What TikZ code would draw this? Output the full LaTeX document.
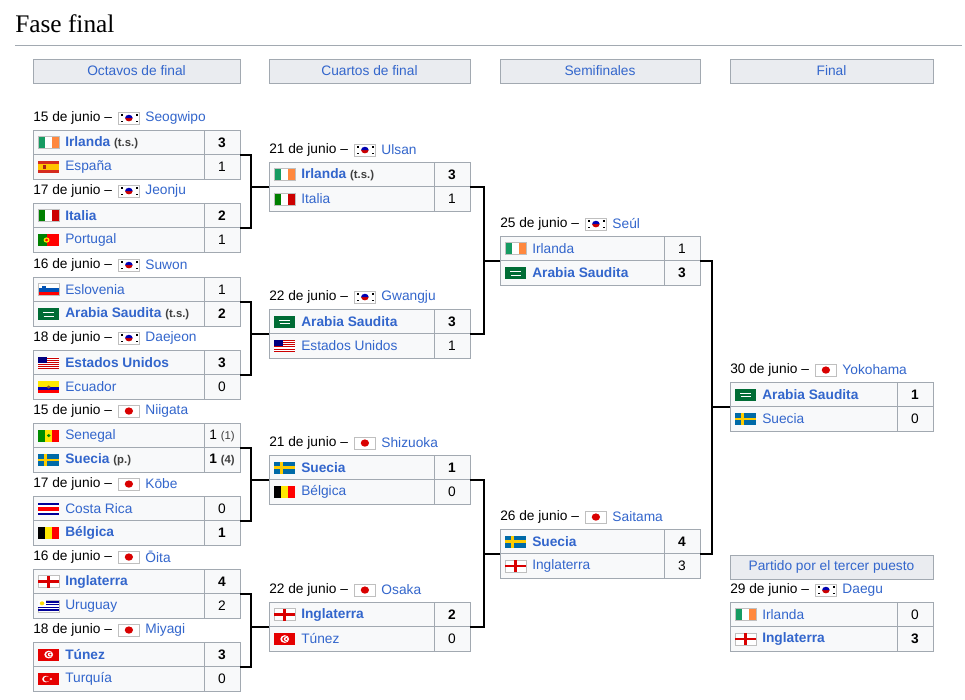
\documentclass[tikz,border=0pt]{standalone}
\usepackage{fontspec}
\setmainfont{Liberation Sans}
\newfontfamily\titlefont{Liberation Serif}
\usetikzlibrary{calc}
\definecolor{lnk}{HTML}{3366CC}
\definecolor{cbg}{HTML}{F8F9FA}
\definecolor{cbd}{HTML}{A2A9B1}
\definecolor{hbg}{HTML}{EAECF0}
\definecolor{fgreen}{HTML}{169B62}
\definecolor{forange}{HTML}{FF883E}
\definecolor{fred}{HTML}{D52B1E}
\definecolor{fyel}{HTML}{FFC400}
\definecolor{fblue}{HTML}{0052B4}
\definecolor{ksag}{HTML}{006C35}
\definecolor{sweb}{HTML}{006AA7}
\definecolor{swey}{HTML}{FECC00}
\newcounter{nn}
\tikzset{
  x=0.75pt, y=-0.75pt,
  txt/.style={font=\fontsize{10.3}{12}\selectfont, inner sep=0pt},
  lnkt/.style={txt, text=lnk},
  cell/.style={fill=cbg, draw=cbd, line width=0.75pt},
  hdr/.style={fill=hbg, draw=cbd, line width=0.75pt},
  conn/.style={line width=1.5pt, black},
  flg/.style={xscale=1.26, yscale=1.1},
  fb/.style={draw=black!25, line width=0.3pt},
  kor/.pic={\filldraw[fill=white,fb] (0,0) rectangle (17,11);
    \fill[red!80!black] (8.5,5.5) ++(-3,0) arc (180:0:3) -- cycle;
    \fill[blue!70!black] (8.5,5.5) ++(3,0) arc (0:-180:3) -- cycle;
    \foreach \a/\b in {2/2,14/2,2/8,14/8}{\fill[black] (\a,\b) rectangle ++(1.5,1.5);}},
  jpn/.pic={\filldraw[fill=white,fb] (0,0) rectangle (17,11);
    \fill[red!85!black] (8.5,5.5) circle (3.3);},
  ire/.pic={\fill[fgreen] (0,0) rectangle (5.67,11); \fill[white] (5.67,0) rectangle (11.33,11);
    \fill[forange] (11.33,0) rectangle (17,11); \draw[fb] (0,0) rectangle (17,11);},
  esp/.pic={\fill[fred] (0,0) rectangle (17,11); \fill[fyel] (0,2.75) rectangle (17,8.25);
    \fill[fred!80!black] (4,4) rectangle (6.5,7);},
  ita/.pic={\fill[green!50!black] (0,0) rectangle (5.67,11); \fill[white] (5.67,0) rectangle (11.33,11);
    \fill[red!80!black] (11.33,0) rectangle (17,11); \draw[fb] (0,0) rectangle (17,11);},
  por/.pic={\fill[green!50!black] (0,0) rectangle (6.8,11); \fill[red] (6.8,0) rectangle (17,11);
    \fill[yellow!90!orange] (6.8,5.5) circle (2.4); \fill[red] (6.8,5.5) circle (1.3);},
  svn/.pic={\fill[white] (0,0) rectangle (17,3.67); \fill[fblue] (0,3.67) rectangle (17,7.33);
    \fill[red] (0,7.33) rectangle (17,11); \fill[fblue] (3,2) rectangle (6,6.5); \draw[fb] (0,0) rectangle (17,11);},
  ksa/.pic={\fill[ksag] (0,0) rectangle (17,11);
    \draw[white,line width=0.8pt] (4,4.3) -- (13,4.3); \draw[white,line width=0.6pt] (4.5,7.5) -- (12.5,7.5);},
  usa/.pic={\fill[red!80!black] (0,0) rectangle (17,11);
    \foreach \i in {1,3,5,7,9,11}{\fill[white] (0,\i*0.846) rectangle (17,\i*0.846+0.846);}
    \fill[blue!50!black] (0,0) rectangle (7.5,5.9);},
  ecu/.pic={\fill[yellow!90!orange] (0,0) rectangle (17,5.5); \fill[blue!70!black] (0,5.5) rectangle (17,8.25);
    \fill[red] (0,8.25) rectangle (17,11); \fill[brown!70!black] (8.5,5.5) circle (1.5);},
  sen/.pic={\fill[green!55!black] (0,0) rectangle (5.67,11); \fill[yellow!90!orange] (5.67,0) rectangle (11.33,11);
    \fill[red] (11.33,0) rectangle (17,11); \fill[green!55!black] (8.5,5.5) circle (1.5);},
  swe/.pic={\fill[sweb] (0,0) rectangle (17,11); \fill[swey] (5,0) rectangle (7.5,11); \fill[swey] (0,4.4) rectangle (17,6.6);},
  crc/.pic={\fill[blue!60!black] (0,0) rectangle (17,11); \fill[white] (0,1.83) rectangle (17,9.17);
    \fill[red] (0,3.67) rectangle (17,7.33);},
  bel/.pic={\fill[black] (0,0) rectangle (5.67,11); \fill[yellow!90!orange] (5.67,0) rectangle (11.33,11);
    \fill[red] (11.33,0) rectangle (17,11);},
  eng/.pic={\filldraw[fill=white,fb] (0,0) rectangle (17,11); \fill[red!85!black] (7.5,0) rectangle (9.5,11);
    \fill[red!85!black] (0,4.5) rectangle (17,6.5);},
  uru/.pic={\filldraw[fill=white,fb] (0,0) rectangle (17,11);
    \foreach \i in {1,3,5,7}{\fill[blue!60!black] (0,\i*1.222) rectangle (17,\i*1.222+1.222);}
    \fill[white] (0,0) rectangle (6.5,6.1); \fill[yellow!80!orange] (3.2,3) circle (1.8);},
  tun/.pic={\fill[red!90!black] (0,0) rectangle (17,11); \fill[white] (8.5,5.5) circle (3.5);
    \fill[red!90!black] (8.9,5.5) circle (2.4); \fill[white] (9.6,5.5) circle (1.9); \fill[red!90!black] (9.8,5.5) circle (0.9);},
  tur/.pic={\fill[red!90!black] (0,0) rectangle (17,11); \fill[white] (6.3,5.5) circle (3);
    \fill[red!90!black] (7.1,5.5) circle (2.4); \fill[white] (10.3,5.5) circle (1);},
}
\newcommand\trow[6]{% x, ytop, right x, flag, team, score
  \stepcounter{nn}%
  \filldraw[cell] (#1,#2) rectangle (#3-36,#2+24.5);
  \filldraw[cell] (#3-36,#2) rectangle (#3,#2+24.5);
  \pic[flg] at (#1+5,#2+6.5) {#4};
  \node[lnkt,anchor=west] (t\arabic{nn}) at (#1+32,#2+12.5) {#5};
  \node[txt] (s\arabic{nn}) at (#3-18,#2+12.5) {#6};
}
\newcommand\dline[5]{% x, y, date, flag, city
  \stepcounter{nn}%
  \node[txt,anchor=west] (d\arabic{nn}) at (#1,#2) {#3 –};
  \pic[flg] at ($(d\arabic{nn}.east)+(6,-6)$) {#4};
  \node[lnkt,anchor=west] (c\arabic{nn}) at ($(d\arabic{nn}.east)+(33,0)$) {#5};
}
\newcommand\mymatch[9]{%
  \dline{#1}{#3}{#4}{#5}{#6}
  \trow{#1}{#3+12}{#2}{#7}{#8}{#9}
}
\newcommand\secrow[6]{\trow{#1}{#3+36.5}{#2}{#4}{#5}{#6}}
\newcommand\W[1]{\textbf{#1}}
\newcommand\tsq{ {\color{black!75}\fontsize{8.5}{10}\selectfont\bfseries(t.s.)}}
\newcommand\peq{ {\color{black!75}\fontsize{8.5}{10}\selectfont\bfseries(p.)}}
\newcommand\smq[1]{{\color{black!75}\fontsize{8.5}{10}\selectfont(#1)}}
\begin{document}
\begin{tikzpicture}
\useasboundingbox[fill=white] (0,0) rectangle (965,700);
\node[font=\fontsize{19}{22}\selectfont\titlefont, anchor=west, inner sep=0] (title) at (15,24) {Fase final};
\draw[cbd, line width=0.75pt] (15,45) -- (962,45);
\filldraw[hdr] (33,59) rectangle (240,83);   \node[lnkt] (h1) at (136.5,71) {Octavos de final};
\filldraw[hdr] (269,59) rectangle (470,83);  \node[lnkt] (h2) at (369.5,71) {Cuartos de final};
\filldraw[hdr] (500,59) rectangle (700,83);  \node[lnkt] (h3) at (600,71) {Semifinales};
\filldraw[hdr] (730,59) rectangle (933,83);  \node[lnkt] (h4) at (831.5,71) {Final};
\filldraw[hdr] (730,555) rectangle (933,579); \node[lnkt] (h5) at (831.5,567) {Partido por el tercer puesto};
\mymatch{33}{240}{118}{15 de junio}{kor}{Seogwipo}{ire}{\W{Irlanda}\tsq}{\W{3}}
\secrow{33}{240}{118}{esp}{España}{1}
\mymatch{33}{240}{191}{17 de junio}{kor}{Jeonju}{ita}{\W{Italia}}{\W{2}}
\secrow{33}{240}{191}{por}{Portugal}{1}
\mymatch{33}{240}{265}{16 de junio}{kor}{Suwon}{svn}{Eslovenia}{1}
\secrow{33}{240}{265}{ksa}{\W{Arabia Saudita}\tsq}{\W{2}}
\mymatch{33}{240}{338}{18 de junio}{kor}{Daejeon}{usa}{\W{Estados Unidos}}{\W{3}}
\secrow{33}{240}{338}{ecu}{Ecuador}{0}
\mymatch{33}{240}{411}{15 de junio}{jpn}{Niigata}{sen}{Senegal}{1 \smq{1}}
\secrow{33}{240}{411}{swe}{\W{Suecia}\peq}{\W{1} {\color{black!75}\fontsize{8.5}{10}\selectfont\bfseries(4)}}
\mymatch{33}{240}{484}{17 de junio}{jpn}{Kōbe}{crc}{Costa Rica}{0}
\secrow{33}{240}{484}{bel}{\W{Bélgica}}{\W{1}}
\mymatch{33}{240}{557}{16 de junio}{jpn}{Ōita}{eng}{\W{Inglaterra}}{\W{4}}
\secrow{33}{240}{557}{uru}{Uruguay}{2}
\mymatch{33}{240}{630}{18 de junio}{jpn}{Miyagi}{tun}{\W{Túnez}}{\W{3}}
\secrow{33}{240}{630}{tur}{Turquía}{0}
\mymatch{269}{470}{150}{21 de junio}{kor}{Ulsan}{ire}{\W{Irlanda}\tsq}{\W{3}}
\secrow{269}{470}{150}{ita}{Italia}{1}
\mymatch{269}{470}{297}{22 de junio}{kor}{Gwangju}{ksa}{\W{Arabia Saudita}}{\W{3}}
\secrow{269}{470}{297}{usa}{Estados Unidos}{1}
\mymatch{269}{470}{443}{21 de junio}{jpn}{Shizuoka}{swe}{\W{Suecia}}{\W{1}}
\secrow{269}{470}{443}{bel}{Bélgica}{0}
\mymatch{269}{470}{590}{22 de junio}{jpn}{Osaka}{eng}{\W{Inglaterra}}{\W{2}}
\secrow{269}{470}{590}{tun}{Túnez}{0}
\mymatch{500}{700}{224}{25 de junio}{kor}{Seúl}{ire}{Irlanda}{1}
\secrow{500}{700}{224}{ksa}{\W{Arabia Saudita}}{\W{3}}
\mymatch{500}{700}{517}{26 de junio}{jpn}{Saitama}{swe}{\W{Suecia}}{\W{4}}
\secrow{500}{700}{517}{eng}{Inglaterra}{3}
\mymatch{730}{933}{370}{30 de junio}{jpn}{Yokohama}{ksa}{\W{Arabia Saudita}}{\W{1}}
\secrow{730}{933}{370}{swe}{Suecia}{0}
\mymatch{730}{933}{590}{29 de junio}{kor}{Daegu}{ire}{Irlanda}{0}
\secrow{730}{933}{590}{eng}{\W{Inglaterra}}{\W{3}}
\foreach \i/\y in {1/154.5,2/227.5,3/301.5,4/374.5,5/447.5,6/520.5,7/593.5,8/666.5}{\coordinate (o\i) at (240,\y);}
\foreach \i/\y in {1/186.5,2/333.5,3/479.5,4/626.5}{\coordinate (qi\i) at (269,\y); \coordinate (qo\i) at (470,\y);}
\foreach \i/\y in {1/260.5,2/553.5}{\coordinate (si\i) at (500,\y); \coordinate (so\i) at (700,\y);}
\coordinate (fi) at (730,406.5);
\foreach \a/\b/\c in {1/2/1,3/4/2,5/6/3,7/8/4}{
  \draw[conn] (o\a) -- ++(11,0) |- (o\b);
  \draw[conn] (qi\c) -- ++(-18,0);
}
\draw[conn] (qo1) -- ++(14,0) |- (qo2); \draw[conn] (si1) -- ++(-16,0);
\draw[conn] (qo3) -- ++(14,0) |- (qo4); \draw[conn] (si2) -- ++(-16,0);
\draw[conn] (so1) -- ++(12,0) |- (so2); \draw[conn] (fi) -- ++(-18,0);
\end{tikzpicture}
\end{document}
